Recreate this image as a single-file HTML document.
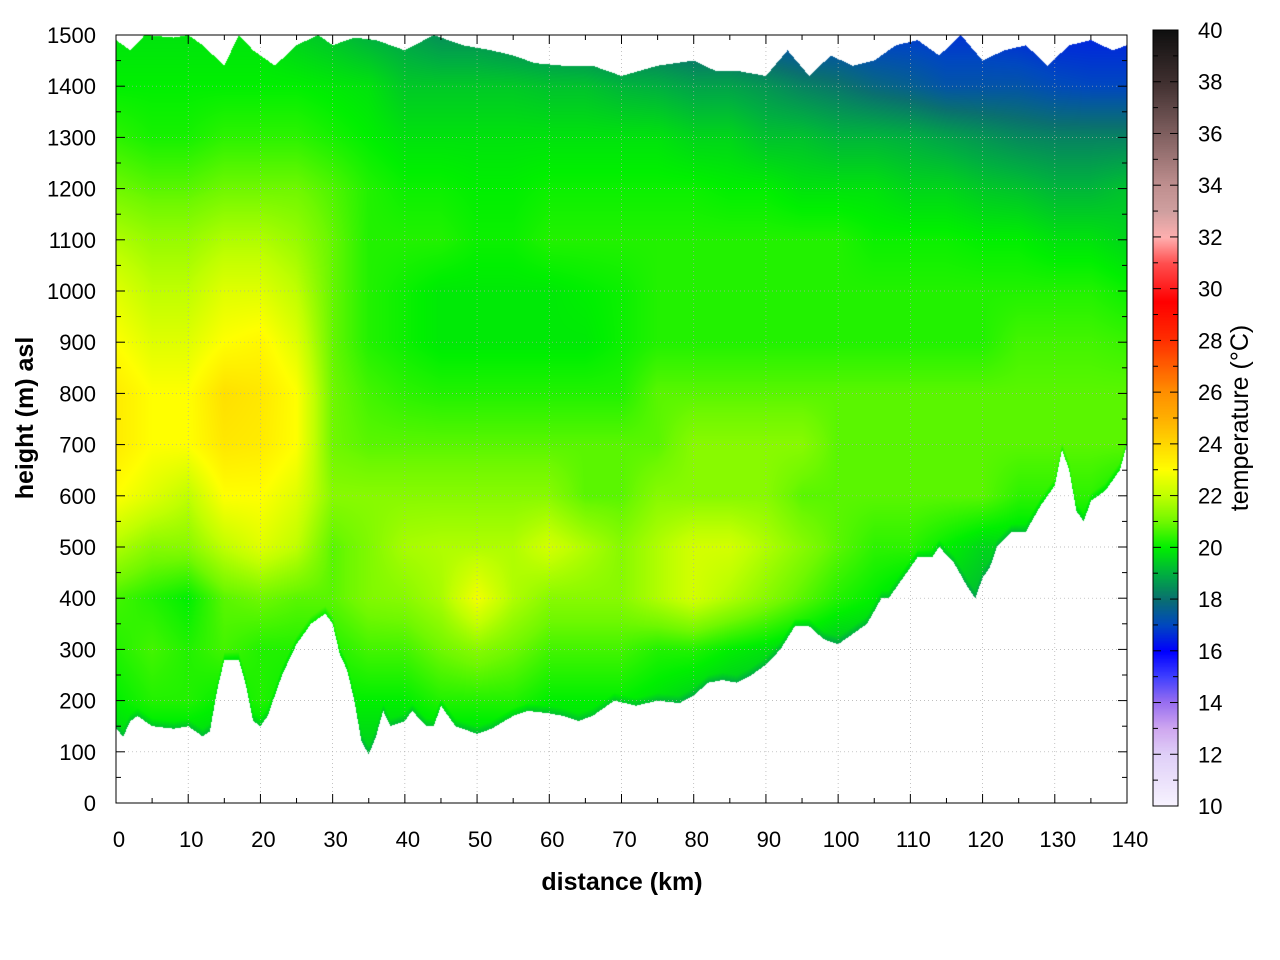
<!DOCTYPE html>
<html><head><meta charset="utf-8"><style>
body{margin:0;background:#fff;width:1280px;height:960px;overflow:hidden;font-family:"Liberation Sans",sans-serif}
#wrap{position:relative;width:1280px;height:960px}
canvas{position:absolute;left:0;top:0}
svg{position:absolute;left:0;top:0}
</style></head><body>
<div id="wrap">
<canvas id="cv" width="1280" height="960"></canvas>
<svg id="sv" width="1280" height="960"></svg>
</div>
<script>
// ---- data ----
const distances=[0,5,10,15,20,25,30,35,40,45,50,55,60,65,70,75,80,85,90,95,100,105,110,115,120,125,130,135,140];
const heights=[0,100,200,300,400,500,600,700,800,900,1000,1100,1200,1300,1400,1500];
const tempRows=[
[19.5,19.5,19.5,19.5,19.5,19.5,19.5,19.5,19.5,19.5,19.5,19.5,19.5,19.5,19.5,19.5,19.5,19.5,19.5,19.5,19.5,19.5,19.5,19.5,19.5,19.5,19.5,19.5,19.5],
[19.5,19.5,19.5,19.5,19.5,19.5,19.5,19.5,19.5,19.5,19.5,19.5,19.5,19.5,19.5,19.5,19.5,19.5,19.5,19.5,19.5,19.5,19.5,19.5,19.5,19.5,19.5,19.5,19.5],
[20,20.3,20.3,20,20.3,20,20,20,20,20.3,20.3,20.3,20,20,20,19.8,19.5,19.3,19.2,19.2,19.2,19.2,19.2,19.2,19.2,19.2,19.2,19.2,19.2],
[20.3,20.6,20.3,20.6,20.3,20.3,20.3,20.6,20.6,21,21.3,21,20.6,20.6,20.6,20.3,20.3,20,19.8,19.5,19.3,19.3,19.3,19.3,19.3,19.3,19.3,19.3,19.3],
[20.6,20.3,20,20.8,21,20.8,20.8,21.2,21.3,21.7,22.8,21.8,21.3,21.3,21.3,21.8,22.3,21.8,21.3,20.8,20.3,20,19.6,19.5,19.2,19.3,19.3,19.3,19.3],
[21.8,21.3,21.3,22,22.5,22,20.8,21.2,21.7,21.8,21.8,21.8,22.3,21.8,21.3,21.8,22.3,22.3,21.8,21.3,20.8,20.4,20.4,20,19.6,19.6,19.6,19.5,19.3],
[23,22.5,22,23,23,22.5,21.3,21.3,21.3,21.3,21.3,21.3,21.3,20.8,20.8,21.3,21.3,21.3,21.3,20.8,20.8,20.8,20.8,20.8,20.8,20.4,20.4,20.4,20],
[23.5,23,23,23.6,23.5,23,21,20.8,20.8,20.8,20.8,20.8,20.8,20.8,20.8,20.8,21.3,21.3,21.3,21.3,20.8,20.8,20.8,20.8,20.8,20.8,20.8,20.8,20.8],
[23.5,23,23,23.8,23.6,23,21,20.6,20.4,20.3,20.3,20.3,20.3,20.3,20.3,20.8,20.8,20.8,20.8,20.8,20.8,20.8,20.8,20.8,20.8,20.8,20.8,20.8,20.8],
[23,22.5,22.5,23,23.2,22.5,20.9,20.3,20.1,19.9,19.9,19.9,19.9,19.9,20.1,20.3,20.3,20.3,20.3,20.3,20.3,20.3,20.3,20.3,20.3,20.6,20.6,20.6,20.5],
[22.5,22,22,22.5,22.5,22,20.9,20.3,20.1,19.9,19.9,19.9,19.9,20,20.1,20.3,20.3,20.3,20.3,20.3,20.3,20.3,20.3,20.3,20.3,20.3,20.3,20.3,20.1],
[21.8,21.5,21.5,21.8,21.8,21.5,20.9,20.3,20.3,20.3,20.1,20.1,20.3,20.3,20.3,20.3,20.3,20.3,20.3,20.3,20.3,20.1,20.1,20.1,20,20,19.8,19.8,19.6],
[21,20.8,20.8,21,21,21,20.7,20.3,20.1,20.1,20,20,20.1,20.1,20.1,20.1,20.1,20,20,19.8,19.8,19.8,19.6,19.6,19.4,19.3,19.1,19.1,19.3],
[20.4,20.2,20.2,20.4,20.4,20.4,20.2,20,19.8,19.8,19.8,19.8,19.8,19.8,19.8,19.8,19.6,19.6,19.3,19.3,19.1,19.1,19,18.8,18.6,18.4,18.3,18.3,18.3],
[20,20,20,20,20,20,19.9,19.8,19.4,19.4,19.4,19.4,19.3,19.3,19.1,19,18.8,18.8,18.6,18.3,18.1,17.8,17.6,17.3,17.3,17.3,17.1,17,17],
[19.8,19.8,19.8,19.8,19.8,19.5,19.3,19,18.8,18.5,18.5,18.3,18.2,18,17.8,17.8,17.6,17.5,17.2,17,17,16.8,16.8,16.7,16.7,16.6,16.5,16.5,16.5]
];
const groundDist=[0,1,2,3,5,8,10,12,13,14,15,17,18,19,20,21,23,25,27,29,30,31,32,33,34,35,36,37,38,40,41,43,44,45,46,47,50,52,55,57,60,62,64,66,69,72,75,78,80,82,84,86,88,90,92,94,96,98,100,102,104,106,107,109,111,113,114,116,118,119,120,121,122,124,126,128,130,131,132,133,134,135,137,139,140];
const groundH=[145,130,160,170,150,145,150,130,140,220,280,280,230,160,150,170,250,310,350,370,350,290,260,200,120,95,130,180,150,160,180,150,150,190,170,150,135,145,170,180,175,170,160,170,200,190,200,195,210,235,240,235,250,270,300,345,345,320,310,330,350,400,400,440,480,480,500,470,420,400,440,460,500,530,530,580,620,690,650,570,550,590,610,650,700];
const topDist=[0,2,4,8,10,12,15,17,19,22,25,28,30,33,36,40,44,48,52,55,58,62,66,70,75,80,83,86,90,93,96,99,102,105,108,111,114,117,120,123,126,129,132,135,138,140];
const topH=[1490,1470,1500,1495,1500,1480,1440,1500,1470,1440,1480,1500,1480,1495,1490,1470,1500,1480,1470,1460,1445,1440,1440,1420,1440,1450,1430,1430,1420,1470,1420,1460,1440,1450,1480,1490,1460,1500,1450,1470,1480,1440,1480,1490,1470,1480];
const cbTicks=[10,12,14,16,18,20,22,24,26,28,30,32,34,36,38,40];
const xTicks=[0,10,20,30,40,50,60,70,80,90,100,110,120,130,140];
const yTicks=[0,100,200,300,400,500,600,700,800,900,1000,1100,1200,1300,1400,1500];
const cmapT=[10,12,13,14,15,16,17,18,19,20,21,22,23,24,25,26,27,28,29.5,31,32,33,34,36,38,40];
const cmapC=["#f8f4ff","#e0d0f8","#d0a8f0","#9a70f0","#4040ff","#0000ff","#0048c0","#0a7070","#00b040","#00f000","#70f800","#c0ff00","#ffff00","#ffd800","#ffb000","#ff9000","#ff6000","#ff3000","#ff0000","#ff5050","#ffb0b0","#d0a0a0","#c09090","#806060","#403030","#101010"];

// ---- geometry ----
const X0=116,X1=1127,Y0=803,Y1=35,CBX=1153,CBW=25,CBY0=806,CBY1=30;
const sx=d=>X0+(d-0)/(140)*(X1-X0);
const sy=h=>Y0-(h/1500)*(Y0-Y1);
const cy=t=>CBY0-(t-10)/30*(CBY0-CBY1);
function hex(c){return [parseInt(c.slice(1,3),16),parseInt(c.slice(3,5),16),parseInt(c.slice(5,7),16)];}
const cmapRGB=cmapC.map(hex);
function col(t){
  if(t<=cmapT[0])return cmapRGB[0];
  for(let i=1;i<cmapT.length;i++){if(t<=cmapT[i]){const f=(t-cmapT[i-1])/(cmapT[i]-cmapT[i-1]);const a=cmapRGB[i-1],b=cmapRGB[i];return [a[0]+(b[0]-a[0])*f,a[1]+(b[1]-a[1])*f,a[2]+(b[2]-a[2])*f];}}
  return cmapRGB[cmapRGB.length-1];
}
function interp1(xs,ys,x){if(x<=xs[0])return ys[0];for(let i=1;i<xs.length;i++){if(x<=xs[i]){const f=(x-xs[i-1])/(xs[i]-xs[i-1]);return ys[i-1]+(ys[i]-ys[i-1])*f;}}return ys[ys.length-1];}
function field(d,h){
  let i=Math.min(distances.length-2,Math.max(0,Math.floor(d/5)));let fi=(d-distances[i])/5;fi=Math.max(0,Math.min(1,fi));
  let j=Math.min(heights.length-2,Math.max(0,Math.floor(h/100)));let fj=(h-heights[j])/100;fj=Math.max(0,Math.min(1,fj));
  const a=tempRows[j][i],b=tempRows[j][i+1],c=tempRows[j+1][i],e=tempRows[j+1][i+1];
  return (a*(1-fi)+b*fi)*(1-fj)+(c*(1-fi)+e*fi)*fj;
}
// ---- heatmap ----
const ctx=document.getElementById('cv').getContext('2d');
const img=ctx.createImageData(X1-X0,Y0-Y1);
for(let px=0;px<X1-X0;px++){
  const d=(px+0.5)/(X1-X0)*140;
  const g=interp1(groundDist,groundH,d),tp=interp1(topDist,topH,d);
  for(let py=0;py<Y0-Y1;py++){
    const h=(Y0-Y1-py-0.5)/(Y0-Y1)*1500;
    if(h<g||h>tp)continue;
    let t=field(d,h);
    if(h-g<15)t-=0.6*(1-(h-g)/15);
    const c=col(t);const k=(py*(X1-X0)+px)*4;
    img.data[k]=c[0];img.data[k+1]=c[1];img.data[k+2]=c[2];img.data[k+3]=255;
  }
}
ctx.putImageData(img,X0,Y1);
// colorbar
for(let y=CBY1;y<CBY0;y++){const t=10+(CBY0-y)/(CBY0-CBY1)*30;const c=col(t);ctx.fillStyle=`rgb(${c[0]|0},${c[1]|0},${c[2]|0})`;ctx.fillRect(CBX,y,CBW,1);}
// ---- axes svg ----
const sv=document.getElementById('sv');const NS='http://www.w3.org/2000/svg';
function mk(tag,attrs,parent){const e=document.createElementNS(NS,tag);for(const k in attrs)e.setAttribute(k,attrs[k]);(parent||sv).appendChild(e);return e;}
const grid=mk('g',{});


xTicks.forEach(v=>{if(v>0&&v<140)mk('line',{x1:sx(v),x2:sx(v),y1:Y1,y2:Y0,stroke:'#aaa','stroke-width':0.7,'stroke-dasharray':'1,3'},grid);});
yTicks.forEach(v=>{if(v>0&&v<1500)mk('line',{x1:X0,x2:X1,y1:sy(v),y2:sy(v),stroke:'#aaa','stroke-width':0.7,'stroke-dasharray':'1,3'},grid);});
const frame=mk('rect',{x:X0,y:Y1,width:X1-X0,height:Y0-Y1,fill:'none',stroke:'#000','stroke-width':1});


const xa=mk('g',{});


for(let v=0;v<=140;v+=5){const L=v%10==0?9:5;mk('line',{x1:sx(v),x2:sx(v),y1:Y0,y2:Y0-L,stroke:'#000'},xa);mk('line',{x1:sx(v),x2:sx(v),y1:Y1,y2:Y1+L,stroke:'#000'},xa);}
xTicks.forEach(v=>{const t=mk('text',{x:sx(v)+3,y:847,'text-anchor':'middle','font-size':22,fill:'#000'},xa);t.textContent=v;

});
const ya=mk('g',{});


for(let v=0;v<=1500;v+=50){const L=v%100==0?9:5;mk('line',{x1:X0,x2:X0+L,y1:sy(v),y2:sy(v),stroke:'#000'},ya);mk('line',{x1:X1,x2:X1-L,y1:sy(v),y2:sy(v),stroke:'#000'},ya);}
yTicks.forEach(v=>{const t=mk('text',{x:96,y:sy(v)+8,'text-anchor':'end','font-size':22,fill:'#000'},ya);t.textContent=v;

});
const xt=mk('text',{x:622,y:890,'text-anchor':'middle','font-size':25,'font-weight':'bold'});xt.textContent='distance (km)';


const yt=mk('text',{x:0,y:0,transform:'translate(33,418) rotate(-90)','text-anchor':'middle','font-size':25,'font-weight':'bold'});yt.textContent='height (m) asl';


const cb=mk('g',{});


mk('rect',{x:CBX,y:CBY1,width:CBW,height:CBY0-CBY1,fill:'none',stroke:'#000','stroke-width':1},cb);
for(let v=10;v<=40;v+=1){const L=v%2==0?8:5;mk('line',{x1:CBX,x2:CBX+L,y1:cy(v),y2:cy(v),stroke:'#000'},cb);mk('line',{x1:CBX+CBW,x2:CBX+CBW-L,y1:cy(v),y2:cy(v),stroke:'#000'},cb);}
cbTicks.forEach(v=>{const t=mk('text',{x:1198,y:cy(v)+8,'font-size':22,fill:'#000'},cb);t.textContent=v;

});
const ct=mk('text',{x:0,y:0,transform:'translate(1248,418) rotate(-90)','text-anchor':'middle','font-size':25});ct.textContent='temperature (°C)';


</script>
</body></html>
